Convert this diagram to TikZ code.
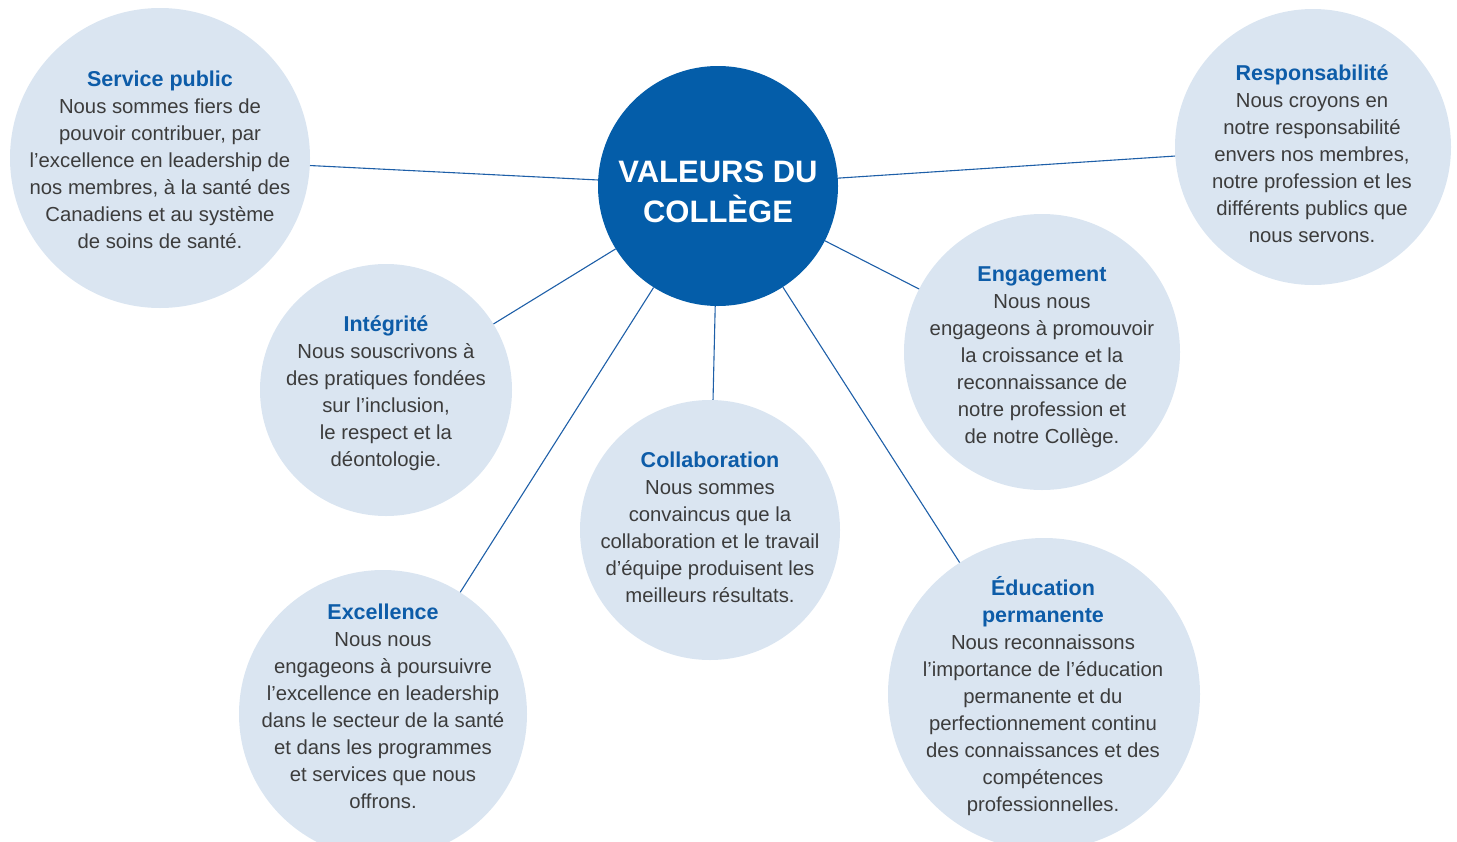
\documentclass[tikz,border=0pt]{standalone}
\usepackage{fontspec}
\setmainfont{Liberation Sans}
\usetikzlibrary{positioning}
\definecolor{cvBlue}{RGB}{4, 93, 169}
\definecolor{cvTitle}{RGB}{13, 92, 168}
\definecolor{cvLight}{RGB}{218, 229, 241}
\definecolor{cvText}{RGB}{60, 60, 60}
\definecolor{cvLine}{RGB}{30, 95, 168}
\newcommand{\titre}[1]{\textcolor{cvTitle}{\fontsize{21.5}{27}\selectfont\bfseries #1}}

\begin{document}
\begin{tikzpicture}[x=1pt, y=-1pt,
    valeur/.style={circle, fill=cvLight, inner sep=0pt, minimum size=#1},
    texte/.style={align=center, text=cvText, inner sep=0pt, font=\fontsize{20.3}{27}\selectfont},
    lien/.style={cvLine, line width=1.1pt}]
  \useasboundingbox (0,0) rectangle (1457,841);
  \clip (0,0) rectangle (1457,841);

  % Circles
  \node[circle, fill=cvBlue, inner sep=0pt, minimum size=240] (centre) at (718,186) {};
  \node[valeur=300] (service) at (160,158) {};
  \node[valeur=276] (respons) at (1313,147) {};
  \node[valeur=252] (integ) at (386,390) {};
  \node[valeur=276] (engag) at (1042,352) {};
  \node[valeur=260] (collab) at (710,530) {};
  \node[valeur=288] (excel) at (383,714) {};
  \node[valeur=312] (educ) at (1044,694) {};

  % Links
  \foreach \v in {service, respons, integ, engag, collab, excel, educ}
    \draw[lien] (centre) -- (\v);

  % Texts
  \node[align=center, text=white, inner sep=0pt, font=\fontsize{31}{40}\selectfont\bfseries] (centreT) at (718,192)
    {VALEURS DU\\COLLÈGE};
  \node[texte] (serviceT) at (160,160) {\titre{Service public}\\
    Nous sommes fiers de\\pouvoir contribuer, par\\l’excellence en leadership de\\
    nos membres, à la santé des\\Canadiens et au système\\de soins de santé.};
  \node[texte] (responsT) at (1312,154) {\titre{Responsabilité}\\
    Nous croyons en\\notre responsabilité\\envers nos membres,\\
    notre profession et les\\différents publics que\\nous servons.};
  \node[texte] (integT) at (386,393) {\titre{Intégrité}\\
    Nous souscrivons à\\des pratiques fondées\\sur l’inclusion,\\
    le respect et la\\déontologie.};
  \node[texte] (engagT) at (1042,357) {\titre{Engagement}\\
    Nous nous\\engageons à promouvoir\\la croissance et la\\
    reconnaissance de\\notre profession et\\de notre Collège.};
  \node[texte] (collabT) at (710,527) {\titre{Collaboration}\\
    Nous sommes\\convaincus que la\\collaboration et le travail\\
    d’équipe produisent les\\meilleurs résultats.};
  \node[texte] (excelT) at (383,706) {\titre{Excellence}\\
    Nous nous\\engageons à poursuivre\\l’excellence en leadership\\
    dans le secteur de la santé\\et dans les programmes\\et services que nous\\offrons.};
  \node[texte] (educT) at (1043,696) {\titre{Éducation}\\\titre{permanente}\\
    Nous reconnaissons\\l’importance de l’éducation\\permanente et du\\
    perfectionnement continu\\des connaissances et des\\compétences\\professionnelles.};
\end{tikzpicture}
\end{document}
